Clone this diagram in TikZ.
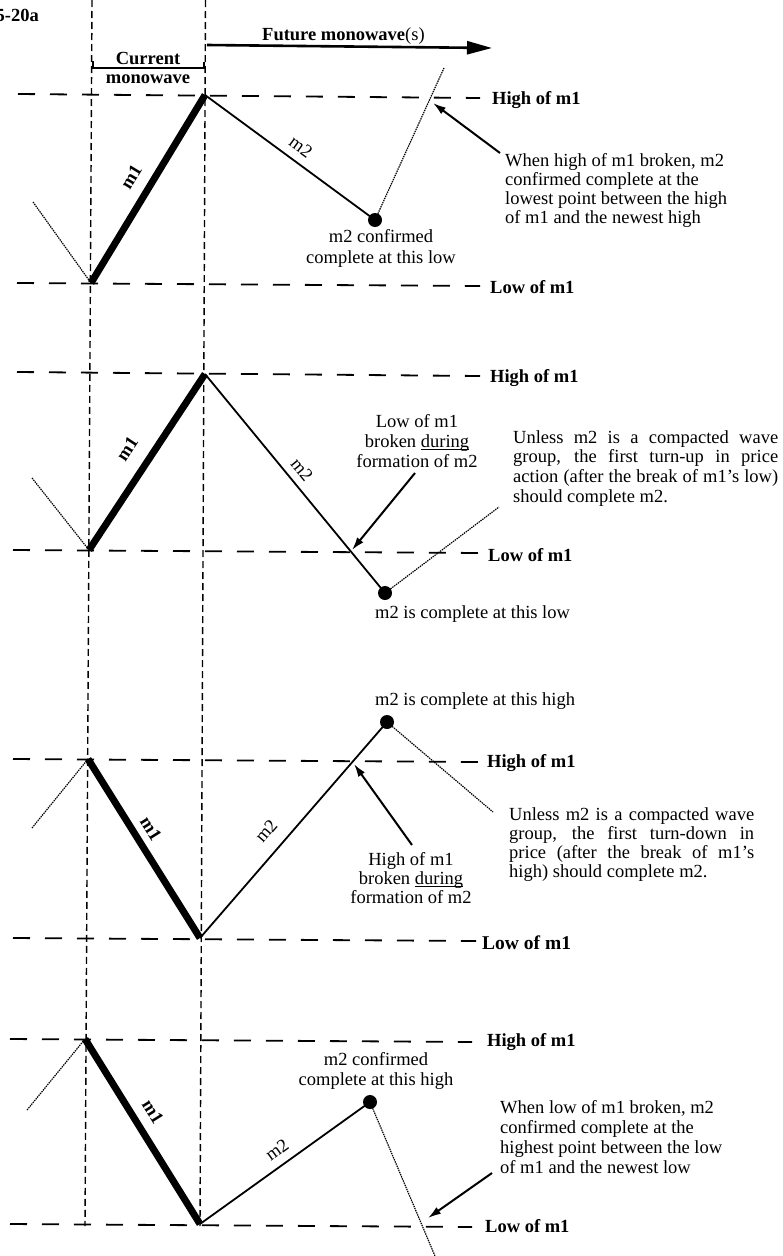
\documentclass[tikz,border=0pt]{standalone}
\usepackage{fontspec}
\setmainfont{Liberation Serif}
\usetikzlibrary{arrows.meta}
\newcommand{\myfs}{\fontsize{18.5}{19.7}\selectfont}
\newcommand{\myul}[1]{\setbox0\hbox{#1}\rlap{\rule[-2.8pt]{\wd0}{0.9pt}}#1}
\newcommand{\jl}[2]{\makebox[#1][s]{#2}}
\begin{document}
\begin{tikzpicture}[x=1pt,y=-1pt,
  every node/.style={inner sep=0pt, font=\myfs},
  vdash/.style={line width=1.4pt, dash pattern=on 7pt off 4pt},
  hdash/.style={line width=1.8pt, dash pattern=on 17pt off 15pt},
  monea/.style={line width=7pt, line cap=butt, line join=miter},
  mtwo/.style={line width=1.8pt},
  dotl/.style={line width=1.2pt, dash pattern=on 1.4pt off 0.9pt},
  ann/.style={line width=2pt, -{Latex[length=13pt,width=8pt]}},
  bigdot/.style={circle, fill=black, minimum size=14pt, inner sep=0pt},
  lvl/.style={font=\myfs\bfseries, anchor=base west},
  wl/.style={font=\myfs\bfseries},
  wn/.style={font=\myfs}
]
\useasboundingbox (0,0) rectangle (782,1256);

% vertical reference lines
\coordinate (vlt) at (92,0); \coordinate (vlb) at (85,1226);
\coordinate (vrt) at (205.5,0); \coordinate (vrb) at (200,1226);
\draw[vdash] (vlt) -- (vlb);
\draw[vdash] (vrt) -- (vrb);

% header
\node[font=\myfs\bfseries, anchor=base east] (fig) at (39,21) {5-20a};
\node[font=\myfs\bfseries, anchor=base] (cur) at (148,64) {Current};
\node[font=\myfs\bfseries, anchor=base] (mono) at (148,83) {monowave};
\coordinate (br1) at (93,61); \coordinate (br2) at (93,68);
\coordinate (br3) at (204,68); \coordinate (br4) at (204,62);
\draw[line width=1.5pt] (br1) -- (br2) -- (br3) -- (br4);
\node[font=\myfs\bfseries, anchor=base west] (fut) at (262,40) {Future monowave\mdseries(s)};
\coordinate (fa) at (207,45); \coordinate (fb) at (492,48);
\draw[line width=2.6pt, -{Triangle[length=25pt,width=13pt]}] (fa) -- (fb);

% ================= Panel 1
\coordinate (h1a) at (18,94); \coordinate (h1b) at (480,98);
\coordinate (l1a) at (17,283); \coordinate (l1b) at (480,286);
\draw[hdash] (h1a) -- (h1b);
\draw[hdash] (l1a) -- (l1b);
\node[lvl] (hl1) at (492,104) {High of m1};
\node[lvl] (ll1) at (490,293) {Low of m1};
\coordinate (A1) at (91,283); \coordinate (B1) at (205,95);
\node[bigdot] (C1) at (375,220) {};
\coordinate (p1) at (33,202); \coordinate (q1) at (444,68);
\draw[dotl] (p1) -- (A1);
\draw[monea] (A1) -- (B1);
\draw[mtwo] (B1) -- (C1.center);
\draw[dotl] (C1.center) -- (q1);
\node[wl, rotate=58.8] (m1a) at (131,177) {m1};
\node[wn, rotate=-36.3] (m2a) at (301,147) {m2};
\coordinate (r1) at (500,153); \coordinate (s1) at (433,103);
\draw[ann] (r1) -- (s1);
\node[anchor=base west] (t1) at (505,166) {\parbox[t]{270pt}{\raggedright\fontsize{18.5}{19}\selectfont When high of m1 broken, m2\\ confirmed complete at the\\ lowest point between the high\\ of m1 and the newest high}};
\node[anchor=base] (c1) at (381,242) {\parbox[t]{200pt}{\centering\fontsize{18.5}{21}\selectfont m2 confirmed\\ complete at this low}};

% ================= Panel 2
\coordinate (h2a) at (17,372); \coordinate (h2b) at (480,376);
\coordinate (l2a) at (13,550); \coordinate (l2b) at (480,553);
\draw[hdash] (h2a) -- (h2b);
\draw[hdash] (l2a) -- (l2b);
\node[lvl] (hl2) at (490,382) {High of m1};
\node[lvl] (ll2) at (488,561) {Low of m1};
\coordinate (A2) at (89,550); \coordinate (B2) at (205,374);
\node[bigdot] (C2) at (385,593) {};
\coordinate (p2) at (32,478); \coordinate (q2) at (499,507);
\draw[dotl] (p2) -- (A2);
\draw[monea] (A2) -- (B2);
\draw[mtwo] (B2) -- (C2.center);
\draw[dotl] (C2.center) -- (q2);
\node[wl, rotate=56.6] (m1b) at (127,449) {m1};
\node[wn, rotate=-50.6] (m2b) at (302,470) {m2};
\coordinate (r2) at (415,473); \coordinate (s2) at (352,550);
\draw[ann] (r2) -- (s2);
\node[anchor=base] (c2) at (417,427) {\parbox[t]{200pt}{\centering\fontsize{18.5}{20}\selectfont Low of m1\\ broken \myul{during}\\ formation of m2}};
\node[anchor=base west] (t2) at (513,443) {\parbox[t]{265pt}{\fontsize{18.5}{19.7}\selectfont
 \jl{265pt}{Unless m2 is a compacted wave}\\
 \jl{265pt}{group, the first turn-up in price}\\
 \jl{265pt}{action (after the break of m1's low)}\\
 should complete m2.}};
\node[anchor=base west] (d2) at (375,618) {m2 is complete at this low};

% ================= Panel 3
\coordinate (h3a) at (13,759); \coordinate (h3b) at (478,762);
\coordinate (l3a) at (13,938); \coordinate (l3b) at (476,941);
\draw[hdash] (h3a) -- (h3b);
\draw[hdash] (l3a) -- (l3b);
\node[lvl] (hl3) at (487,767) {High of m1};
\node[lvl, font=\fontsize{19.5}{20}\selectfont\bfseries] (ll3) at (482,949) {Low of m1};
\coordinate (A3) at (88,759); \coordinate (B3) at (200,938);
\node[bigdot] (C3) at (387,722) {};
\coordinate (p3) at (32,828); \coordinate (q3) at (493,812);
\draw[dotl] (p3) -- (A3);
\draw[monea] (A3) -- (B3);
\draw[mtwo] (B3) -- (C3.center);
\draw[dotl] (C3.center) -- (q3);
\node[wl, rotate=-58.0] (m1c) at (151,829) {m1};
\node[wn, rotate=49.1] (m2c) at (266,831) {m2};
\coordinate (r3) at (412,845); \coordinate (s3) at (354,764);
\draw[ann] (r3) -- (s3);
\node[anchor=base west] (d3) at (375,705) {m2 is complete at this high};
\node[anchor=base] (c3) at (411,865) {\parbox[t]{200pt}{\centering\fontsize{18.5}{19}\selectfont High of m1\\ broken \myul{during}\\ formation of m2}};
\node[anchor=base west] (t3) at (509,820) {\parbox[t]{245pt}{\fontsize{18.5}{19}\selectfont
 \jl{245pt}{Unless m2 is a compacted wave}\\
 \jl{245pt}{group, the first turn-down in}\\
 \jl{245pt}{price (after the break of m1's}\\
 high) should complete m2.}};

% ================= Panel 4
\coordinate (h4a) at (10,1039); \coordinate (h4b) at (472,1042);
\coordinate (l4a) at (10,1224); \coordinate (l4b) at (472,1227);
\draw[hdash] (h4a) -- (h4b);
\draw[hdash] (l4a) -- (l4b);
\node[lvl] (hl4) at (487,1046) {High of m1};
\node[lvl] (ll4) at (485,1232) {Low of m1};
\coordinate (A4) at (85,1039); \coordinate (B4) at (200,1224);
\node[bigdot] (C4) at (370,1102) {};
\coordinate (p4) at (27,1110); \coordinate (q4) at (435,1256);
\draw[dotl] (p4) -- (A4);
\draw[monea] (A4) -- (B4);
\draw[mtwo] (B4) -- (C4.center);
\draw[dotl] (C4.center) -- (q4);
\node[wl, rotate=-58.1] (m1d) at (153,1112) {m1};
\node[wn, rotate=35.7] (m2d) at (277,1150) {m2};
\coordinate (r4) at (492,1173); \coordinate (s4) at (428,1218);
\draw[ann] (r4) -- (s4);
\node[anchor=base] (c4) at (376,1065) {\parbox[t]{200pt}{\centering\fontsize{18.5}{20}\selectfont m2 confirmed\\ complete at this high}};
\node[anchor=base west] (t4) at (500,1113) {\parbox[t]{280pt}{\raggedright\fontsize{18.5}{20}\selectfont When low of m1 broken, m2\\ confirmed complete at the\\ highest point between the low\\ of m1 and the newest low}};
\end{tikzpicture}
\end{document}
